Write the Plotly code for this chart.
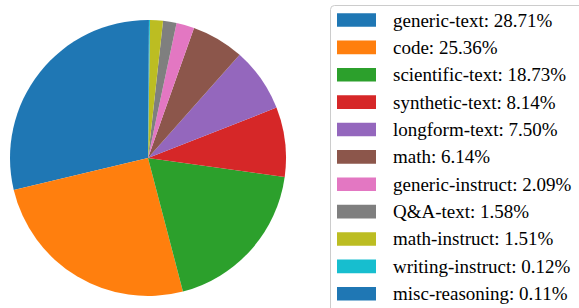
import plotly.graph_objects as go

labels = ["generic-text", "code", "scientific-text", "synthetic-text", "longform-text",
          "math", "generic-instruct", "Q&A-text", "math-instruct", "writing-instruct",
          "misc-reasoning"]
values = [28.71, 25.36, 18.73, 8.14, 7.50, 6.14, 2.09, 1.58, 1.51, 0.12, 0.11]
colors = ["#1f77b4", "#ff7f0e", "#2ca02c", "#d62728", "#9467bd", "#8c564b",
          "#e377c2", "#7f7f7f", "#bcbd22", "#17becf", "#1f77b4"]

W, H = 579, 308

# first slice must start at 12 o'clock and run counterclockwise
rot = -values[0] / sum(values) * 360

fig = go.Figure(go.Pie(
    labels=labels, values=values, sort=False, direction="counterclockwise",
    rotation=rot, marker=dict(colors=colors, line=dict(width=0)),
    textinfo="none", hoverinfo="label+percent", showlegend=False,
    domain=dict(x=[10 / W, 286 / W], y=[1 - 296 / H, 1 - 20 / H]),
))

shapes = []
annotations = []
# legend frame (rounded corner, extends beyond the canvas)
x0, y0 = 330.5 / W, 1 - 5.5 / H
r = 4
shapes.append(dict(
    type="path", xref="paper", yref="paper",
    path=(f"M {x0} -0.1 L {x0} {y0 - r / H} Q {x0} {y0} {x0 + r / W} {y0} "
          f"L 1.1 {y0}"),
    line=dict(color="#cccccc", width=1), fillcolor="rgba(0,0,0,0)",
))
y_first, step = 20.0, 27.37
for i, (lab, val, col) in enumerate(zip(labels, values, colors)):
    yc = y_first + i * step
    shapes.append(dict(
        type="rect", xref="paper", yref="paper",
        x0=337 / W, x1=376 / W, y0=1 - (yc + 6.8) / H, y1=1 - (yc - 6.8) / H,
        fillcolor=col, line=dict(width=0),
    ))
    annotations.append(dict(
        x=391 / W, y=1 - yc / H, xref="paper", yref="paper",
        xanchor="left", yanchor="middle", showarrow=False,
        text=f"{lab}: {val:.2f}%",
        font=dict(family="Liberation Serif", size=19, color="#000000"),
    ))

fig.update_layout(
    width=W, height=H, margin=dict(l=0, r=0, t=0, b=0),
    paper_bgcolor="white", plot_bgcolor="white",
    font=dict(family="Liberation Serif"),
    shapes=shapes, annotations=annotations,
)
fig.write_html("out.html", config=dict(displayModeBar=False),
               post_script="document.body.style.margin='0';document.body.style.padding='0';")
